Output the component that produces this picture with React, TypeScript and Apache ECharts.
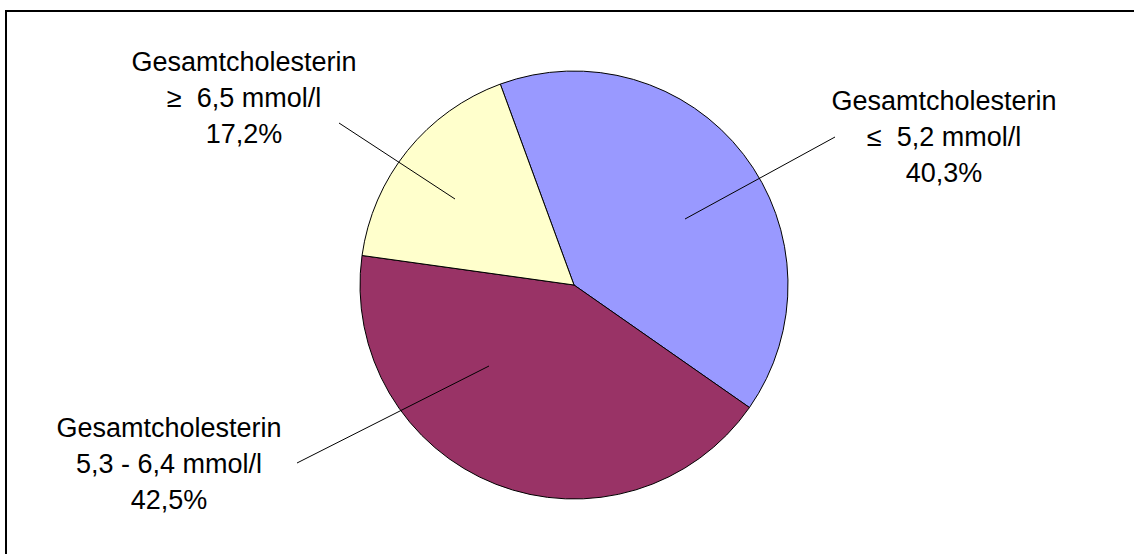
import React, { useEffect, useRef } from "react";
import * as echarts from "echarts";

const categories = [
  "Gesamtcholesterin\n≤  5,2 mmol/l",
  "Gesamtcholesterin\n5,3 - 6,4 mmol/l",
  "Gesamtcholesterin\n≥  6,5 mmol/l",
];
const values = [40.3, 42.5, 17.2];
const colors = ["#9999FF", "#993366", "#FFFFCC"];

// label block centres and leader line ends (layout only)
const labelPos = [
  [944, 137],
  [169, 464],
  [244, 98],
];
const leaderLines = [
  [[835, 137], [685, 219]],
  [[297, 463], [489, 366]],
  [[339, 123], [455, 199]],
];

export default function App() {
  const ref = useRef<HTMLDivElement>(null);
  useEffect(() => {
    if (!ref.current) return;
    const chart = echarts.init(ref.current, null, { renderer: "svg" });
    chart.setOption({
      animation: false,
      backgroundColor: "#fff",
      graphic: [
        {
          type: "rect",
          shape: { x: 6, y: 11, width: 1160, height: 580 },
          style: { fill: "none", stroke: "#000", lineWidth: 2 },
          silent: true,
          z: 100,
        },
        ...leaderLines.map((l) => ({
          type: "line",
          shape: { x1: l[0][0], y1: l[0][1], x2: l[1][0], y2: l[1][1] },
          style: { stroke: "#000", lineWidth: 1 },
          silent: true,
          z: 100,
        })),
      ],
      series: [
        {
          type: "pie",
          center: [574, 285],
          radius: 214,
          startAngle: 110.15,
          clockwise: true,
          silent: true,
          emphasis: { disabled: true },
          data: categories.map((c, i) => ({
            name: c,
            value: values[i],
            itemStyle: { color: colors[i] },
          })),
          itemStyle: { borderColor: "#000", borderWidth: 1 },
          label: {
            show: true,
            position: "outside",
            formatter: (p: any) =>
              p.name + "\n" + String(p.value.toFixed(1)).replace(".", ",") + "%",
            color: "#000",
            fontFamily: "Liberation Sans, Arial, sans-serif",
            fontSize: 27,
            lineHeight: 36,
            align: "center",
          },
          labelLine: { show: false },
          labelLayout: (params: any) => ({
            x: labelPos[params.dataIndex][0],
            y: labelPos[params.dataIndex][1],
            align: "center",
            verticalAlign: "middle",
          }),
        },
      ],
    });
    return () => chart.dispose();
  }, []);
  return (
    <div
      ref={ref}
      style={{ position: "absolute", left: 0, top: 0, width: 1134, height: 554 }}
    />
  );
}
